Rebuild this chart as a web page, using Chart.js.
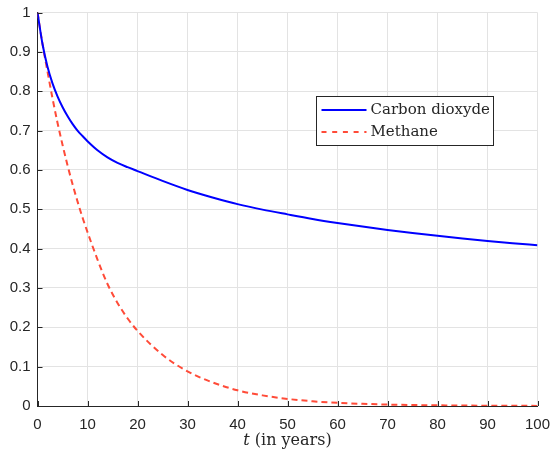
<!DOCTYPE html>
<html>
<head>
<meta charset="utf-8">
<script src="https://cdn.jsdelivr.net/npm/chart.js@4"></script>
<style>
  html, body { margin: 0; padding: 0; background: #fff; }
  #wrap { width: 551px; height: 452px; }
</style>
</head>
<body>
<div id="wrap"><canvas id="c" width="551" height="452"></canvas></div>
<script>
// years since emission
const years = [0, 1, 2, 3, 4, 5, 6, 7, 8, 9, 10, 12, 14, 16, 18, 20, 25, 30, 35, 40, 45, 50, 55, 60, 65, 70, 75, 80, 85, 90, 95, 100];
// fraction remaining in the atmosphere
const co2 = [1.0, 0.92, 0.862, 0.82, 0.787, 0.76, 0.737, 0.717, 0.70, 0.686, 0.673, 0.65, 0.632, 0.618, 0.607, 0.597, 0.572, 0.549, 0.53, 0.513, 0.499, 0.487, 0.4755, 0.4653, 0.456, 0.4475, 0.4397, 0.4325, 0.4258, 0.4196, 0.4138, 0.4085];
const methane = [1.0, 0.92, 0.85, 0.782, 0.72, 0.664, 0.612, 0.564, 0.52, 0.479, 0.442, 0.372, 0.31, 0.262, 0.223, 0.191, 0.13, 0.088, 0.06, 0.04, 0.027, 0.018, 0.012, 0.008, 0.0055, 0.0037, 0.0025, 0.0017, 0.0011, 0.0008, 0.0005, 0.0003];
const seriesNames = ['Carbon dioxyde', 'Methane'];
const xTicks = [0, 10, 20, 30, 40, 50, 60, 70, 80, 90, 100];
const yTicks = [0, 0.1, 0.2, 0.3, 0.4, 0.5, 0.6, 0.7, 0.8, 0.9, 1];

const pts = (ys) => years.map((t, i) => ({ x: t, y: ys[i] }));
const axisColor = '#262626';
const legendFont = '15px "DejaVu Serif"';
const titleFont = '16px "DejaVu Serif"';

// inward tick marks, x-axis title, legend box inside the plot
const decor = {
    id: 'decor',
    afterDraw(chart) {
        const c = chart.ctx, a = chart.chartArea;
        const xs = chart.scales.x, ys = chart.scales.y;
        c.save();
        c.strokeStyle = axisColor;
        c.lineWidth = 1;
        c.beginPath();
        xTicks.forEach(v => {
            const px = Math.round(xs.getPixelForValue(v)) + 0.5;
            c.moveTo(px, a.bottom); c.lineTo(px, a.bottom - 5);
        });
        yTicks.forEach(v => {
            const py = Math.round(ys.getPixelForValue(v)) + 0.5;
            c.moveTo(a.left, py); c.lineTo(a.left + 5, py);
        });
        c.stroke();

        // x title, italic t
        c.fillStyle = axisColor;
        c.textBaseline = 'middle';
        c.textAlign = 'left';
        const cx = (a.left + a.right) / 2, ty = 441;
        c.font = 'italic ' + titleFont;
        const w1 = c.measureText('t').width;
        c.font = titleFont;
        const rest = ' (in years)';
        const w2 = c.measureText(rest).width;
        const x0 = cx - (w1 + w2) / 2;
        c.font = 'italic ' + titleFont;
        c.fillText('t', x0, ty);
        c.font = titleFont;
        c.fillText(rest, x0 + w1, ty);

        // legend
        const bx = 316.5, by = 96.5, bw = 177, bh = 49;
        c.fillStyle = '#fff';
        c.fillRect(bx, by, bw, bh);
        c.strokeStyle = axisColor;
        c.strokeRect(bx, by, bw, bh);
        chart.data.datasets.forEach((ds, i) => {
            const ry = by + 13.5 + i * 22;
            c.strokeStyle = ds.borderColor;
            c.lineWidth = ds.borderWidth;
            c.setLineDash(ds.borderDash ? [5, 5.7] : []);
            c.beginPath();
            c.moveTo(bx + 5, ry); c.lineTo(bx + 50, ry);
            c.stroke();
            c.setLineDash([]);
            c.fillStyle = axisColor;
            c.font = legendFont;
            c.fillText(ds.label, bx + 54, ry);
        });
        c.restore();
    }
};

new Chart(document.getElementById('c'), {
    type: 'line',
    data: {
        datasets: [
            { label: seriesNames[0], data: pts(co2), borderColor: '#0000ff', borderWidth: 2, pointRadius: 0, fill: false, cubicInterpolationMode: 'monotone' },
            { label: seriesNames[1], data: pts(methane), borderColor: '#ff4b38', borderWidth: 2, borderDash: [6, 4], pointRadius: 0, fill: false, cubicInterpolationMode: 'monotone' }
        ]
    },
    options: {
        responsive: false,
        animation: false,
        layout: { padding: { left: 0, right: 13.5, top: 12.5, bottom: 0 } },
        plugins: { legend: { display: false }, tooltip: { enabled: false } },
        scales: {
            x: {
                type: 'linear', min: 0, max: 100,
                afterBuildTicks: s => { s.ticks = xTicks.map(v => ({ value: v })); },
                afterFit: s => { s.height = 46; s.paddingLeft = 0; s.paddingRight = 0; },
                grid: { color: '#e3e3e3', drawTicks: false },
                border: { color: axisColor, width: 1 },
                ticks: { color: axisColor, padding: 10, font: { family: 'Liberation Sans', size: 15 }, maxRotation: 0 }
            },
            y: {
                min: 0, max: 1,
                afterBuildTicks: s => { s.ticks = yTicks.map(v => ({ value: v })); },
                afterFit: s => { s.width = 37.5; s.paddingTop = 0; s.paddingBottom = 0; },
                grid: { color: '#e3e3e3', drawTicks: false },
                border: { color: axisColor, width: 1 },
                ticks: { color: axisColor, padding: 7, font: { family: 'Liberation Sans', size: 15 }, callback: v => String(Math.round(v * 10) / 10) }
            }
        }
    },
    plugins: [decor]
});
</script>
</body>
</html>
